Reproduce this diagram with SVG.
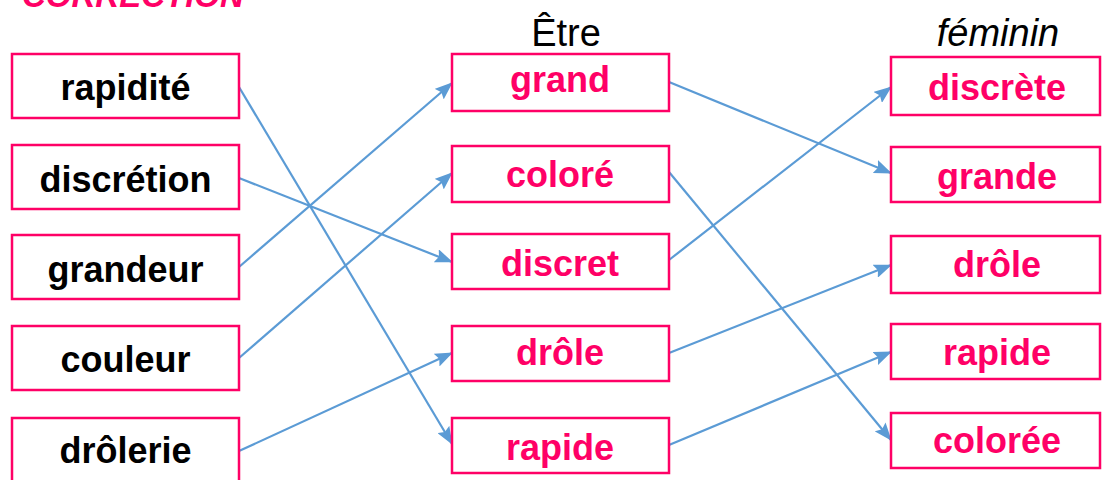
<svg xmlns="http://www.w3.org/2000/svg" width="1102" height="480" viewBox="0 0 1102 480">
<style>
.box{fill:#fff;stroke:#FF0066;stroke-width:2.5}
.lt{font-family:"Liberation Sans",Arial,sans-serif;font-weight:bold;font-size:36px;fill:#000;text-anchor:middle}
.pt{font-family:"Liberation Sans",Arial,sans-serif;font-weight:bold;font-size:36px;fill:#FF0066;text-anchor:middle}
.hd{font-family:"Liberation Sans",Arial,sans-serif;font-size:38px;fill:#000;text-anchor:middle}
.ln{stroke:#5B9BD5;stroke-width:2.2;fill:none;marker-end:url(#ah)}
</style>
<defs>
<marker id="ah" markerUnits="userSpaceOnUse" markerWidth="18" markerHeight="14" refX="17" refY="7" orient="auto">
<path d="M0,0 L18,7 L0,14 L3,7 Z" fill="#5B9BD5"/>
</marker>
</defs>
<rect width="1102" height="480" fill="#fff"/>
<text x="22" y="7" font-family="Liberation Sans,Arial,sans-serif" font-weight="bold" font-style="italic" font-size="33" fill="#FF0066">CORRECTION</text>
<text class="hd" x="566" y="46">Être</text>
<text class="hd" x="998" y="46" font-style="italic">féminin</text>
<g id="connectors">
<line class="ln" x1="239" y1="87" x2="452" y2="444"/>
<line class="ln" x1="239" y1="178" x2="452" y2="262"/>
<line class="ln" x1="239" y1="267" x2="452" y2="83"/>
<line class="ln" x1="239" y1="358" x2="452" y2="173"/>
<line class="ln" x1="239" y1="451" x2="452" y2="353"/>
<line class="ln" x1="669" y1="82" x2="891" y2="173"/>
<line class="ln" x1="669" y1="172" x2="891" y2="440"/>
<line class="ln" x1="669" y1="260" x2="891" y2="87"/>
<line class="ln" x1="669" y1="353" x2="891" y2="265"/>
<line class="ln" x1="669" y1="445" x2="891" y2="352"/>
</g>
<g id="l1"><rect class="box" x="12" y="54" width="227" height="64"/><text class="lt" x="125.5" y="100">rapidité</text></g>
<g id="l2"><rect class="box" x="12" y="145" width="227" height="64"/><text class="lt" x="125.5" y="192">discrétion</text></g>
<g id="l3"><rect class="box" x="12" y="235" width="227" height="64"/><text class="lt" x="125.5" y="282">grandeur</text></g>
<g id="l4"><rect class="box" x="12" y="326" width="227" height="64"/><text class="lt" x="125.5" y="372">couleur</text></g>
<g id="l5"><rect class="box" x="12" y="418" width="227" height="64"/><text class="lt" x="125.5" y="463">drôlerie</text></g>
<g id="m1"><rect class="box" x="452" y="54" width="217" height="57"/><text class="pt" x="560" y="92">grand</text></g>
<g id="m2"><rect class="box" x="452" y="146" width="217" height="56"/><text class="pt" x="560" y="187">coloré</text></g>
<g id="m3"><rect class="box" x="452" y="234" width="217" height="55"/><text class="pt" x="560" y="276">discret</text></g>
<g id="m4"><rect class="box" x="452" y="326" width="217" height="55"/><text class="pt" x="560" y="365">drôle</text></g>
<g id="m5"><rect class="box" x="452" y="418" width="217" height="55"/><text class="pt" x="560" y="460">rapide</text></g>
<g id="r1"><rect class="box" x="891" y="57" width="209" height="58"/><text class="pt" x="997" y="100">discrète</text></g>
<g id="r2"><rect class="box" x="891" y="147" width="209" height="55"/><text class="pt" x="997" y="189">grande</text></g>
<g id="r3"><rect class="box" x="891" y="236" width="209" height="57"/><text class="pt" x="997" y="277">drôle</text></g>
<g id="r4"><rect class="box" x="891" y="324" width="209" height="55"/><text class="pt" x="997" y="365">rapide</text></g>
<g id="r5"><rect class="box" x="891" y="413" width="209" height="55"/><text class="pt" x="997" y="453">colorée</text></g>
</svg>
